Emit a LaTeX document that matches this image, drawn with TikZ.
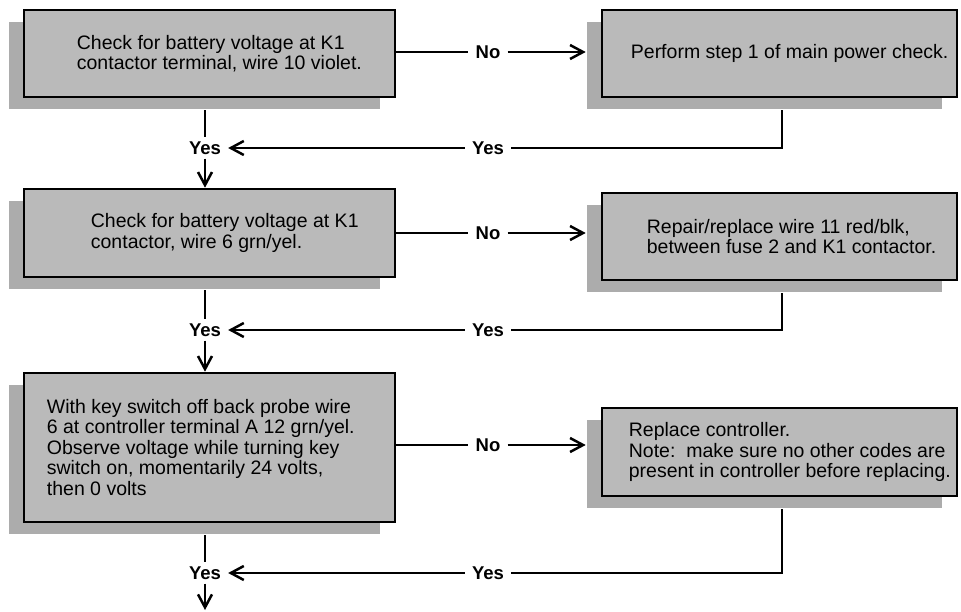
\documentclass[tikz,border=0pt]{standalone}
\usepackage{fontspec}
\setmainfont{Liberation Sans}
\usetikzlibrary{positioning,shadows,arrows.meta,calc}
\definecolor{boxgray}{RGB}{186,186,186}
\definecolor{shadegray}{RGB}{172,172,172}
\newcommand{\boxfont}{\fontsize{19.5}{20.5}\selectfont}
\newcommand{\tagfont}{\fontsize{18.5}{20}\selectfont\bfseries}

\begin{document}
\begin{tikzpicture}[x=1pt,y=-1pt,
    chkbox/.style={draw,line width=2.6pt,fill=boxgray,inner sep=0pt,minimum height=#1,
        drop shadow={shadow xshift=-15pt,shadow yshift=-12pt,fill=shadegray,opacity=1}},
    leftbox/.style={chkbox=#1,minimum width=371pt},
    rightbox/.style={chkbox=#1,minimum width=355pt},
    boxtext/.style={font=\boxfont,align=left,inner sep=0pt},
    tag/.style={font=\tagfont,inner xsep=7pt,inner ysep=4pt},
    link/.style={line width=2.5pt},
    arr/.style={link,-{Straight Barb[length=13pt,width=14pt,line width=2.5pt]}}]
    \useasboundingbox (0,0) rectangle (961,612);

    % boxes
    \node[leftbox=87pt] (chk1) at (209.5,53.5) {};
    \node[leftbox=88pt] (chk2) at (209.5,233) {};
    \node[leftbox=149pt] (chk3) at (209.5,447.5) {};
    \node[rightbox=87pt] (act1) at (779.5,53.5) {};
    \node[rightbox=87pt] (act2) at (779.5,236.5) {};
    \node[rightbox=88pt] (act3) at (779.5,452) {};

    \node[boxtext,right=54pt of chk1.west] (chk1txt) {Check for battery voltage at K1\\contactor terminal, wire 10 violet.};
    \node[boxtext,right=68pt of chk2.west] (chk2txt) {Check for battery voltage at K1\\contactor, wire 6 grn/yel.};
    \node[boxtext,right=24pt of chk3.west] (chk3txt) {With key switch off back probe wire\\6 at controller terminal A 12 grn/yel.\\Observe voltage while turning key\\switch on, momentarily 24 volts,\\then 0 volts};
    \node[boxtext,right=30pt of act1.west] (act1txt) {Perform step 1 of main power check.};
    \node[boxtext,right=46pt of act2.west] (act2txt) {Repair/replace wire 11 red/blk,\\between fuse 2 and K1 contactor.};
    \node[boxtext,right=28pt of act3.west] (act3txt) {Replace controller.\\Note:\ \ make sure no other codes are\\present in controller before replacing.};

    % labels
    \node[tag] (no1) at (488,52) {No};
    \node[tag] (no2) at (488,233) {No};
    \node[tag] (no3) at (488,445) {No};
    \node[tag] (yesr1) at (488,148) {Yes};
    \node[tag] (yesr2) at (488,330) {Yes};
    \node[tag] (yesr3) at (488,573) {Yes};
    \node[tag] (yes1) at (205,148) {Yes};
    \node[tag] (yes2) at (205,330) {Yes};
    \node[tag] (yes3) at (205,573) {Yes};
    \coordinate (out) at (205,610);

    % no branches
    \draw[link] (no1 -| chk1.east) -- (no1);
    \draw[arr] (no1) -- ($(no1 -| act1.west)+(-15,0)$);
    \draw[link] (no2 -| chk2.east) -- (no2);
    \draw[arr] (no2) -- ($(no2 -| act2.west)+(-15,0)$);
    \draw[link] (no3 -| chk3.east) -- (no3);
    \draw[arr] (no3) -- ($(no3 -| act3.west)+(-15,0)$);

    % yes branches
    \draw[link] ($(chk1.south -| yes1)+(0,12)$) -- (yes1);
    \draw[arr] (yes1) -- (chk2.north -| yes1);
    \draw[link] ($(chk2.south -| yes2)+(0,12)$) -- (yes2);
    \draw[arr] (yes2) -- (chk3.north -| yes2);
    \draw[link] ($(chk3.south -| yes3)+(0,12)$) -- (yes3);
    \draw[arr] (yes3) -- (out);

    \draw[link] ($(act1.south)+(2.5,12)$) |- (yesr1);
    \draw[arr] (yesr1) -- (yes1);
    \draw[link] ($(act2.south)+(2.5,12)$) |- (yesr2);
    \draw[arr] (yesr2) -- (yes2);
    \draw[link] ($(act3.south)+(2.5,12)$) |- (yesr3);
    \draw[arr] (yesr3) -- (yes3);
\end{tikzpicture}
\end{document}
